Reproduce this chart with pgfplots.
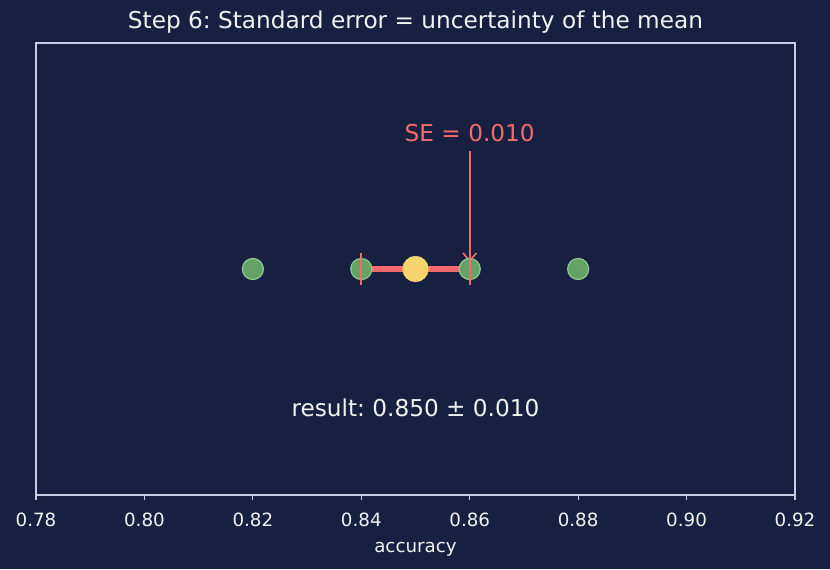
\documentclass[border=0pt]{standalone}
\usepackage{pgfplots}
\pgfplotsset{compat=1.18}
\usepackage{fontspec}
\setmainfont{DejaVu Sans}
\frenchspacing
\usetikzlibrary{arrows.meta}
\definecolor{bg}{HTML}{172041}
\definecolor{frame}{HTML}{C8CDE6}
\definecolor{txt}{HTML}{F2F2F2}
\definecolor{sered}{HTML}{F56B6D}
\definecolor{meanyel}{HTML}{F6D56E}
\definecolor{ptgreen}{HTML}{64A265}
\definecolor{ptedge}{HTML}{8DC98F}
\begin{document}
\begin{tikzpicture}
\fill[bg] (-27pt,-55.5pt) rectangle (595.5pt,371.25pt);
\useasboundingbox (-27pt,-55.5pt) rectangle (595.5pt,371.25pt);
\begin{axis}[
  at={(0,0)}, anchor=south west,
  scale only axis, width=569.25pt, height=339pt,
  xmin=0.78, xmax=0.92, ymin=-1, ymax=1,
  axis line style={frame, line width=0.9pt},
  xtick={0.78,0.80,0.82,0.84,0.86,0.88,0.90,0.92},
  ytick=\empty,
  tick align=outside, xtick pos=bottom,
  major tick length=4pt,
  tick style={frame, line width=0.9pt},
  /pgf/number format/fixed, /pgf/number format/fixed zerofill, /pgf/number format/precision=2, /pgf/number format/assume math mode=true,
  xticklabel style={font=\fontsize{13.7pt}{16pt}\selectfont, text=txt, anchor=center, yshift=-15pt},
  xlabel={accuracy},
  xlabel style={font=\fontsize{13.7pt}{16pt}\selectfont, text=txt, at={(axis description cs:0.5,0)}, anchor=center, yshift=-40.5pt},
  clip=false,
]
% individual runs
\addplot[only marks, mark=*, mark size=7.9pt, mark options={fill=ptgreen, draw=ptedge, line width=0.9pt}]
  coordinates {(0.82,0) (0.84,0) (0.86,0) (0.88,0)};
% standard error bar
\addplot[draw=sered, line width=4.5pt] coordinates {(0.84,0) (0.86,0)};
\addplot[draw=sered, only marks, mark=|, mark size=12pt, mark options={draw=sered, line width=1.2pt}]
  coordinates {(0.84,0) (0.86,0)};
% mean
\addplot[only marks, mark=*, mark size=9.6pt, mark options={fill=meanyel, draw=meanyel}]
  coordinates {(0.85,0)};
\draw[draw=sered, line width=1.2pt, -{Straight Barb[length=6pt,width=10pt]}] (axis cs:0.86,0.52) -- (axis cs:0.86,0.03);
\node[text=sered, font=\fontsize{17.4pt}{20pt}\selectfont, anchor=center] at (axis cs:0.86,0.6) {SE = 0.010};
\node[text=txt, font=\fontsize{17.4pt}{20pt}\selectfont, anchor=center] at (axis cs:0.85,-0.615) {result: 0.850 ± 0.010};
\node[text=txt, font=\fontsize{17.4pt}{20pt}\selectfont, anchor=center] at (axis description cs:0.5,1) [yshift=15.75pt] {Step 6: Standard error = uncertainty of the mean};
\end{axis}
\end{tikzpicture}
\end{document}
